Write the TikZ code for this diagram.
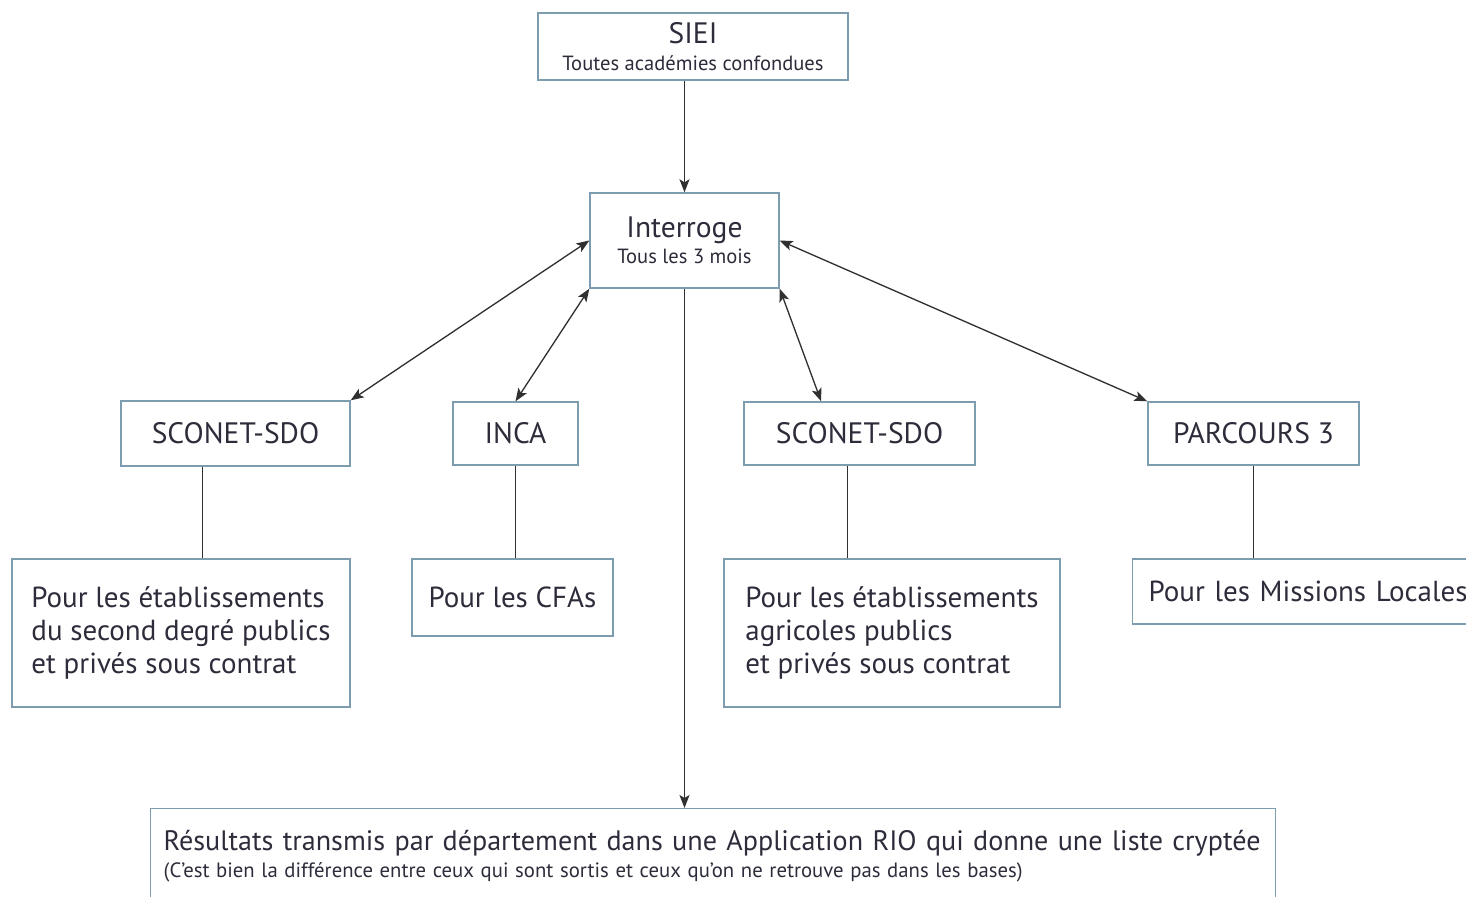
\documentclass[tikz,border=0pt]{standalone}
\usepackage{fontspec}
\setmainfont{PT Sans}
\usetikzlibrary{shapes.geometric, arrows, arrows.meta, positioning}
\definecolor{boxline}{HTML}{7E9CB0}
\definecolor{boxtext}{HTML}{2E2C3A}
\definecolor{linkline}{HTML}{303030}
\tikzstyle{titlebox} = [rectangle, draw=boxline, line width=0.8pt, text=boxtext, text centered, align=center, font=\fontsize{16.8}{15}\selectfont]
\tikzstyle{infobox} = [rectangle, draw=boxline, line width=0.8pt, text=boxtext, align=left, font=\fontsize{16.5}{18.8}\selectfont]
\tikzstyle{arrow} = [line width=0.75pt, draw=linkline, ->, >={Stealth[length=0.26cm, width=0.2cm, inset=0.06cm]}]
\tikzstyle{twoway} = [line width=0.75pt, draw=linkline, <->, >={Stealth[length=0.26cm, width=0.2cm, inset=0.06cm]}]
\tikzstyle{link} = [line width=0.75pt, draw=linkline]
\newcommand{\subline}[1]{{\fontsize{11.7}{13}\selectfont #1}}
\newcommand{\noteline}[1]{{\fontsize{11.8}{13}\selectfont\spaceskip=0.32em #1}}

\begin{document}
\begin{tikzpicture}
\useasboundingbox (0,0) rectangle (29.32,-17.92);
\clip (0,0) rectangle (29.32,-17.92);
% top of the chain
\node (siei) [titlebox, minimum width=6.2cm, minimum height=1.34cm] at (13.86,-0.93) {SIEI\\ \subline{Toutes académies confondues}};
\node (interroge) [titlebox, below of=siei, node distance=3.88cm, xshift=-0.17cm, minimum width=3.78cm, minimum height=1.9cm] {Interroge\\ \subline{Tous les 3 mois}};
% the four sources
\node (sconetA) [titlebox, minimum width=4.58cm, minimum height=1.3cm] at (4.71,-8.67) {SCONET-SDO};
\node (inca) [titlebox, right of=sconetA, node distance=5.6cm, minimum width=2.5cm, minimum height=1.26cm] {INCA};
\node (sconetB) [titlebox, right of=inca, node distance=6.88cm, minimum width=4.62cm, minimum height=1.26cm] {SCONET-SDO};
\node (parcours) [titlebox, right of=sconetB, node distance=7.88cm, minimum width=4.22cm, minimum height=1.26cm] {PARCOURS 3};
% who they cover
\node (etabA) [infobox, minimum width=6.76cm, minimum height=2.96cm] at (3.62,-12.66) {Pour les établissements\\du second degré publics\\et privés sous contrat};
\node (cfa) [infobox, align=center, minimum width=4.02cm, minimum height=1.54cm] at (10.25,-11.95) {Pour les CFAs};
\node (etabB) [infobox, minimum width=6.72cm, minimum height=2.96cm] at (17.84,-12.66) {Pour les établissements\\agricoles publics\\et privés sous contrat};
\node (missions) [infobox, anchor=west, text width=7cm, inner xsep=0.32cm, minimum height=1.3cm] at (22.64,-11.83) {Pour les Missions Locales};
% result
\node (resultats) [infobox, anchor=north west, text width=21.98cm, inner xsep=0.26cm, minimum height=1.9cm, font=\fontsize{16}{15.4}\selectfont] at (3.0,-16.16) {Résultats transmis par département dans une Application RIO qui donne une liste cryptée\\\noteline{(C'est bien la différence entre ceux qui sont sortis et ceux qu'on ne retrouve pas dans les bases)}};

\draw [arrow] (interroge.north |- siei.south) -- (interroge.north);
\draw [twoway] (interroge.west) -- (sconetA.north east);
\draw [twoway] (interroge.south west) -- (inca.north);
\draw [twoway] (interroge.south east) -- (sconetB.140);
\draw [twoway] (interroge.east) -- (parcours.north west);
\draw [arrow] (interroge.south) -- (interroge.south |- resultats.north);
\draw [link] (sconetA.225) -- (sconetA.225 |- etabA.north);
\draw [link] (inca.south) -- (inca.south |- cfa.north);
\draw [link] (sconetB.250) -- (sconetB.250 |- etabB.north);
\draw [link] (parcours.south) -- (parcours.south |- missions.north);
\end{tikzpicture}
\end{document}
